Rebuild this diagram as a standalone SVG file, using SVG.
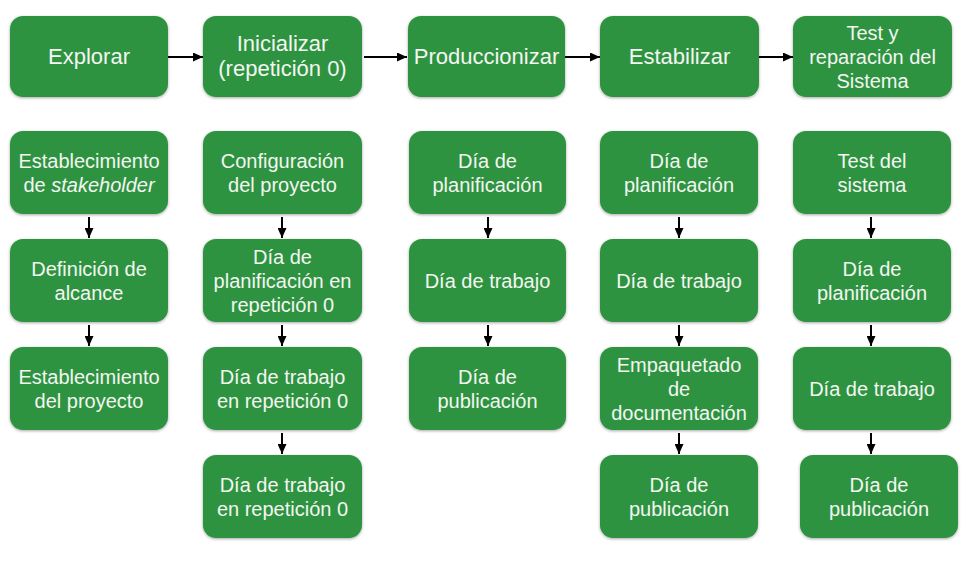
<svg xmlns="http://www.w3.org/2000/svg" width="976" height="568" viewBox="0 0 976 568">
<defs>
<style>
.box{fill:#2f9341;filter:url(#sh);}
text{font-family:"Liberation Sans",Arial,sans-serif;fill:#f3f6f1;text-anchor:middle;font-size:20px;}
.big{font-size:22px;}
.c{stroke:#000;stroke-width:2;fill:none;marker-end:url(#ah);}
</style>
<filter id="sh" x="-10%" y="-10%" width="120%" height="125%">
<feDropShadow dx="0" dy="1" stdDeviation="1.5" flood-color="#000" flood-opacity="0.35"/>
</filter>
<marker id="ah" markerUnits="userSpaceOnUse" markerWidth="10" markerHeight="9" refX="10" refY="4.5" orient="auto">
<path d="M0,0 L10,4.5 L0,9 z" fill="#000"/>
</marker>
</defs>
<rect width="976" height="568" fill="#fff"/>
<g id="connectors">
<line class="c" x1="166" y1="57" x2="203" y2="57"/>
<line class="c" x1="364" y1="57" x2="407" y2="57"/>
<line class="c" x1="565" y1="57" x2="600" y2="57"/>
<line class="c" x1="757" y1="57" x2="793" y2="57"/>
<line class="c" x1="89" y1="217" x2="89" y2="238"/>
<line class="c" x1="89" y1="325" x2="89" y2="346"/>
<line class="c" x1="282" y1="217" x2="282" y2="238"/>
<line class="c" x1="282" y1="325" x2="282" y2="346"/>
<line class="c" x1="282" y1="433" x2="282" y2="454"/>
<line class="c" x1="488" y1="217" x2="488" y2="238"/>
<line class="c" x1="488" y1="325" x2="488" y2="346"/>
<line class="c" x1="679" y1="217" x2="679" y2="238"/>
<line class="c" x1="679" y1="325" x2="679" y2="346"/>
<line class="c" x1="679" y1="433" x2="679" y2="454"/>
<line class="c" x1="871" y1="217" x2="871" y2="238"/>
<line class="c" x1="871" y1="325" x2="871" y2="346"/>
<line class="c" x1="871" y1="433" x2="871" y2="454"/>
</g>
<g id="n-explorar"><rect class="box" x="10" y="16" width="158" height="81" rx="13"/><text class="big" x="89" y="64">Explorar</text></g>
<g id="n-inicializar"><rect class="box" x="203" y="16" width="159" height="81" rx="13"/><text class="big" x="282.5" y="51">Inicializar</text><text class="big" x="282.5" y="76">(repetición 0)</text></g>
<g id="n-producc"><rect class="box" x="408" y="16" width="157" height="81" rx="13"/><text class="big" x="486.5" y="64">Produccionizar</text></g>
<g id="n-estabilizar"><rect class="box" x="600" y="16" width="159" height="81" rx="13"/><text class="big" x="679.5" y="64">Estabilizar</text></g>
<g id="n-test"><rect class="box" x="793" y="16" width="159" height="81" rx="13"/><text x="872.5" y="40">Test y</text><text x="872.5" y="64">reparación del</text><text x="872.5" y="88">Sistema</text></g>

<g id="n-c1r1"><rect class="box" x="10" y="131" width="158" height="83" rx="13"/><text x="89" y="168">Establecimiento</text><text x="89" y="192">de <tspan font-style="italic">stakeholder</tspan></text></g>
<g id="n-c1r2"><rect class="box" x="10" y="239" width="158" height="83" rx="13"/><text x="89" y="276">Definición de</text><text x="89" y="300">alcance</text></g>
<g id="n-c1r3"><rect class="box" x="10" y="347" width="158" height="83" rx="13"/><text x="89" y="384">Establecimiento</text><text x="89" y="408">del proyecto</text></g>

<g id="n-c2r1"><rect class="box" x="203" y="131" width="159" height="83" rx="13"/><text x="282.5" y="168">Configuración</text><text x="282.5" y="192">del proyecto</text></g>
<g id="n-c2r2"><rect class="box" x="203" y="239" width="159" height="83" rx="13"/><text x="282.5" y="264">Día de</text><text x="282.5" y="288">planificación en</text><text x="282.5" y="312">repetición 0</text></g>
<g id="n-c2r3"><rect class="box" x="203" y="347" width="159" height="83" rx="13"/><text x="282.5" y="384">Día de trabajo</text><text x="282.5" y="408">en repetición 0</text></g>
<g id="n-c2r4"><rect class="box" x="203" y="455" width="159" height="83" rx="13"/><text x="282.5" y="492">Día de trabajo</text><text x="282.5" y="516">en repetición 0</text></g>

<g id="n-c3r1"><rect class="box" x="409" y="131" width="157" height="83" rx="13"/><text x="487.5" y="168">Día de</text><text x="487.5" y="192">planificación</text></g>
<g id="n-c3r2"><rect class="box" x="409" y="239" width="157" height="83" rx="13"/><text x="487.5" y="288">Día de trabajo</text></g>
<g id="n-c3r3"><rect class="box" x="409" y="347" width="157" height="83" rx="13"/><text x="487.5" y="384">Día de</text><text x="487.5" y="408">publicación</text></g>

<g id="n-c4r1"><rect class="box" x="600" y="131" width="158" height="83" rx="13"/><text x="679" y="168">Día de</text><text x="679" y="192">planificación</text></g>
<g id="n-c4r2"><rect class="box" x="600" y="239" width="158" height="83" rx="13"/><text x="679" y="288">Día de trabajo</text></g>
<g id="n-c4r3"><rect class="box" x="600" y="347" width="158" height="83" rx="13"/><text x="679" y="372">Empaquetado</text><text x="679" y="396">de</text><text x="679" y="420">documentación</text></g>
<g id="n-c4r4"><rect class="box" x="600" y="455" width="158" height="83" rx="13"/><text x="679" y="492">Día de</text><text x="679" y="516">publicación</text></g>

<g id="n-c5r1"><rect class="box" x="793" y="131" width="158" height="83" rx="13"/><text x="872" y="168">Test del</text><text x="872" y="192">sistema</text></g>
<g id="n-c5r2"><rect class="box" x="793" y="239" width="158" height="83" rx="13"/><text x="872" y="276">Día de</text><text x="872" y="300">planificación</text></g>
<g id="n-c5r3"><rect class="box" x="793" y="347" width="158" height="83" rx="13"/><text x="872" y="396">Día de trabajo</text></g>
<g id="n-c5r4"><rect class="box" x="800" y="455" width="158" height="83" rx="13"/><text x="879" y="492">Día de</text><text x="879" y="516">publicación</text></g>
</svg>
